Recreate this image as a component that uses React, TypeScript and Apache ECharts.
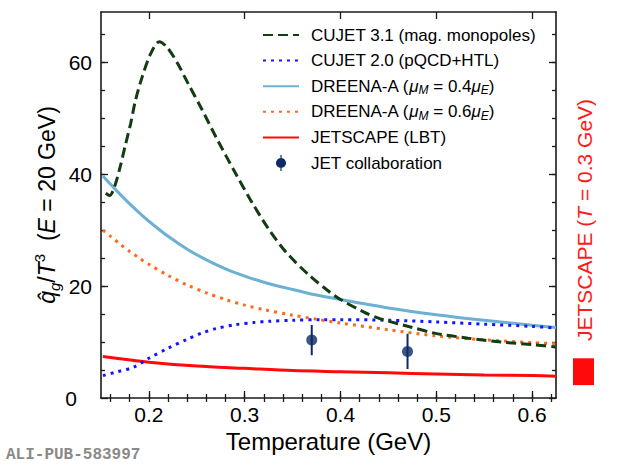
import { useEffect, useRef } from "react";
import * as echarts from "echarts";

// temperature (GeV) / qhat_g / T^3 at E = 20 GeV
const cujet31T = [0.155, 0.159, 0.164, 0.17, 0.175, 0.181, 0.186, 0.193, 0.202, 0.211, 0.219, 0.23, 0.241, 0.255, 0.272, 0.29, 0.3075, 0.325, 0.343, 0.367, 0.389, 0.4, 0.424, 0.441, 0.473, 0.498, 0.533, 0.568, 0.603, 0.625];
const cujet31 = [36.6, 36.2, 37.7, 41.3, 44.9, 49.1, 53.2, 57.4, 61.6, 63.7, 62.7, 59.8, 56.2, 51.7, 46.0, 40.3, 35.0, 30.2, 26.1, 22.0, 18.9, 17.6, 15.4, 14.2, 12.7, 11.6, 10.7, 10.0, 9.5, 9.1];

const cujet20T = [0.152, 0.167, 0.184, 0.2, 0.22, 0.24, 0.255, 0.27, 0.29, 0.31, 0.325, 0.35, 0.38, 0.4, 0.45, 0.5, 0.55, 0.6, 0.625];
const cujet20 = [4.0, 4.7, 5.5, 7.1, 8.9, 10.5, 11.6, 12.4, 13.1, 13.5, 13.7, 13.9, 14.0, 14.0, 13.9, 13.6, 13.2, 12.8, 12.5];

const dreenaT = [0.152, 0.16, 0.17, 0.18, 0.19, 0.2, 0.22, 0.24, 0.26, 0.28, 0.3, 0.32, 0.35, 0.375, 0.4, 0.45, 0.5, 0.55, 0.6, 0.625];
const dreena04 = [39.7, 38.2, 36.4, 34.7, 33.1, 31.6, 28.9, 26.6, 24.7, 23.1, 21.8, 20.7, 19.4, 18.4, 17.6, 16.1, 14.9, 13.9, 13.0, 12.6];
const dreena06 = [30.0, 28.9, 27.5, 26.2, 25.0, 23.9, 21.9, 20.2, 18.8, 17.6, 16.6, 15.8, 14.8, 14.1, 13.4, 12.2, 11.1, 10.4, 9.9, 9.7];

const jetscapeT = [0.152, 0.2, 0.25, 0.3, 0.35, 0.4, 0.45, 0.5, 0.55, 0.6, 0.625];
const jetscape = [7.4, 6.4, 5.7, 5.3, 4.9, 4.7, 4.5, 4.3, 4.1, 4.0, 3.9];

const jetT = [0.37, 0.47];
const jetVal = [10.35, 8.33];
const jetErr = [2.7, 3.15];

// JETSCAPE band at T = 0.3 GeV
const jetscapeBand = [2.3, 7.1];

const xMajor = [0.2, 0.3, 0.4, 0.5, 0.6];
const xMinor = [0.16, 0.18, 0.2, 0.22, 0.24, 0.26, 0.28, 0.3, 0.32, 0.34, 0.36, 0.38, 0.4, 0.42, 0.44, 0.46, 0.48, 0.5, 0.52, 0.54, 0.56, 0.58, 0.6, 0.62];
const yMajor = [0, 20, 40, 60];
const yMinor = [5, 10, 15, 20, 25, 30, 35, 40, 45, 50, 55, 60, 65];

const FONT = "'Liberation Sans', Arial, Helvetica, sans-serif";
const AXIS = "#1a1a1a";
const NAVY = "#0b2a66";

const zip = (xs: number[], ys: number[]) => xs.map((x, i) => [x, ys[i]]);

export default function App() {
  const ref = useRef<HTMLDivElement | null>(null);

  useEffect(() => {
    if (!ref.current) return;
    const chart = echarts.init(ref.current, null, { renderer: "svg" });

    const xBase = (extra: any) => ({
      type: "value",
      gridIndex: 0,
      min: 0.15,
      max: 0.625,
      splitLine: { show: false },
      axisLabel: { show: false },
      ...extra,
    });
    const yBase = (extra: any) => ({
      type: "value",
      gridIndex: 0,
      min: 0,
      max: 69,
      splitLine: { show: false },
      axisLabel: { show: false },
      ...extra,
    });
    const line = { show: true, onZero: false, lineStyle: { color: AXIS, width: 1.6 } };
    const noLine = { show: false };
    const tick = (vals: number[], len: number) => ({
      show: true,
      inside: true,
      length: len,
      customValues: vals,
      lineStyle: { color: AXIS, width: 1.3 },
    });

    const sub = { fontSize: 12, fontFamily: FONT, verticalAlign: "bottom", lineHeight: 12, color: "#000" };
    const base = { fontSize: 17, fontFamily: FONT, lineHeight: 20, color: "#000" };
    const ital = { ...base, fontStyle: "italic" };

    chart.setOption({
      animation: false,
      textStyle: { fontFamily: FONT },
      grid: [
        { left: 101, top: 12, width: 455, height: 386 },
        { left: 573, top: 12, width: 21, height: 386 },
      ],
      xAxis: [
        xBase({
          position: "bottom",
          axisLine: line,
          axisTick: tick(xMajor, 7),
          axisLabel: {
            show: true,
            customValues: xMajor,
            margin: 6,
            fontSize: 21,
            color: "#000",
            fontFamily: FONT,
            formatter: (v: number) => v.toFixed(1),
          },
          name: "Temperature (GeV)",
          nameLocation: "middle",
          nameGap: 31,
          nameTextStyle: { fontSize: 24, color: "#000", fontFamily: FONT },
        }),
        xBase({ position: "bottom", axisLine: noLine, axisTick: tick(xMinor, 4) }),
        xBase({ position: "top", axisLine: line, axisTick: tick(xMajor, 7) }),
        xBase({ position: "top", axisLine: noLine, axisTick: tick(xMinor, 4) }),
        {
          type: "category",
          gridIndex: 1,
          data: ["T"],
          show: false,
        },
      ],
      yAxis: [
        yBase({
          position: "left",
          axisLine: line,
          axisTick: tick(yMajor, 7),
          axisLabel: {
            show: true,
            customValues: yMajor,
            margin: 9,
            fontSize: 21,
            color: "#000",
            fontFamily: FONT,
            formatter: (v: number) => (v === 0 ? "{z|0}" : String(v)),
            rich: { z: { fontSize: 21, fontFamily: FONT, color: "#000", padding: [0, 15, 0, 0] } },
          },
          name: "{it|q\u0302}{sub|g}{n|/}{it|T}{sup|3}{n|  (}{it|E}{n| = 20 GeV)}",
          nameLocation: "middle",
          nameGap: 39,
          nameMoveOverlap: false,
          nameTextStyle: {
            rich: {
              n: { fontSize: 23, fontFamily: FONT, lineHeight: 30, color: "#000" },
              it: { fontSize: 23, fontFamily: FONT, lineHeight: 30, color: "#000", fontStyle: "italic" },
              sub: { fontSize: 15, fontFamily: FONT, lineHeight: 15, verticalAlign: "bottom", color: "#000", fontStyle: "italic" },
              sup: { fontSize: 15, fontFamily: FONT, lineHeight: 15, verticalAlign: "top", color: "#000" },
            },
          },
        }),
        yBase({ position: "left", axisLine: noLine, axisTick: tick(yMinor, 4) }),
        yBase({ position: "right", axisLine: line, axisTick: tick(yMajor, 7) }),
        yBase({ position: "right", axisLine: noLine, axisTick: tick(yMinor, 4) }),
        { type: "value", gridIndex: 1, min: 0, max: 69, show: false },
      ],
      legend: {
        orient: "vertical",
        left: 257,
        top: 20,
        itemWidth: 36,
        itemHeight: 16,
        itemGap: 5.6,
        align: "left",
        itemStyle: { opacity: 0 },
        data: [
          "CUJET 3.1 (mag. monopoles)",
          "CUJET 2.0 (pQCD+HTL)",
          "DREENA-A 0.4",
          "DREENA-A 0.6",
          "JETSCAPE (LBT)",
          {
            name: "JET collaboration",
            icon: "path://M5.3,0H6.7V19H5.3Z M12,9.5A6,6 0 1 1 0,9.5A6,6 0 1 1 12,9.5Z",
            itemStyle: { opacity: 1, color: NAVY },
          },
        ],
        formatter: (name: string) => {
          if (name === "DREENA-A 0.4") return "{n|DREENA-A (}{i|\u03bc}{s|M}{n| = 0.4}{i|\u03bc}{s|E}{n|)}";
          if (name === "DREENA-A 0.6") return "{n|DREENA-A (}{i|\u03bc}{s|M}{n| = 0.6}{i|\u03bc}{s|E}{n|)}";
          return "{n|" + name + "}";
        },
        textStyle: {
          ...base,
          padding: [0, 0, 0, 7],
          rich: { n: base, i: ital, s: { ...sub, fontStyle: "italic" } },
        },
      },
      graphic: [
        {
          type: "text",
          left: 6,
          top: 447,
          style: {
            text: "ALI-PUB-583997",
            fontSize: 16,
            fontWeight: "bold",
            fontFamily: "'Liberation Mono', 'DejaVu Sans Mono', monospace",
            fill: "#8a8a8a",
          },
        },
        {
          type: "text",
          x: 584,
          y: 220,
          rotation: Math.PI / 2,
          style: {
            text: "JETSCAPE ({it|T} = 0.3 GeV)",
            fontSize: 21,
            fontFamily: FONT,
            fill: "#ff1a1a",
            align: "center",
            verticalAlign: "middle",
            rich: { it: { fontSize: 21, fontFamily: FONT, fontStyle: "italic", fill: "#ff1a1a" } },
          },
        },
      ],
      series: [
        {
          name: "CUJET 3.1 (mag. monopoles)",
          type: "line",
          data: zip(cujet31T, cujet31),
          smooth: 0.3,
          symbol: "none",
          z: 5,
          lineStyle: { color: "#123d12", width: 3, type: [10, 5] },
          itemStyle: { color: "#123d12" },
        },
        {
          name: "CUJET 2.0 (pQCD+HTL)",
          type: "line",
          data: zip(cujet20T, cujet20),
          smooth: 0.3,
          symbol: "none",
          z: 4,
          lineStyle: { color: "#1414ff", width: 3, type: [3, 5] },
          itemStyle: { color: "#1414ff" },
        },
        {
          name: "DREENA-A 0.4",
          type: "line",
          data: zip(dreenaT, dreena04),
          smooth: 0.3,
          symbol: "none",
          z: 3,
          lineStyle: { color: "#6cb0d3", width: 3 },
          itemStyle: { color: "#6cb0d3" },
        },
        {
          name: "DREENA-A 0.6",
          type: "line",
          data: zip(dreenaT, dreena06),
          smooth: 0.3,
          symbol: "none",
          z: 4,
          lineStyle: { color: "#ff6a1a", width: 3, type: [3, 5] },
          itemStyle: { color: "#ff6a1a" },
        },
        {
          name: "JETSCAPE (LBT)",
          type: "line",
          data: zip(jetscapeT, jetscape),
          smooth: 0.3,
          symbol: "none",
          z: 3,
          lineStyle: { color: "#ff0a0a", width: 3 },
          itemStyle: { color: "#ff0a0a" },
        },
        {
          type: "custom",
          xAxisIndex: 0,
          yAxisIndex: 0,
          z: 6,
          data: jetT.map((t, i) => [t, jetVal[i] - jetErr[i], jetVal[i] + jetErr[i]]),
          encode: { x: 0, y: [1, 2] },
          renderItem: (_params: any, api: any) => {
            const p1 = api.coord([api.value(0), api.value(1)]);
            const p2 = api.coord([api.value(0), api.value(2)]);
            return {
              type: "line",
              shape: { x1: p1[0], y1: p1[1], x2: p2[0], y2: p2[1] },
              style: { stroke: NAVY, lineWidth: 2 },
            };
          },
        },
        {
          name: "JET collaboration",
          type: "scatter",
          data: zip(jetT, jetVal),
          symbol: "circle",
          symbolSize: 11,
          z: 7,
          itemStyle: { color: NAVY },
        },
        {
          type: "bar",
          xAxisIndex: 4,
          yAxisIndex: 4,
          stack: "band",
          barWidth: "100%",
          data: [jetscapeBand[0]],
          itemStyle: { color: "transparent" },
        },
        {
          type: "bar",
          xAxisIndex: 4,
          yAxisIndex: 4,
          stack: "band",
          barWidth: "100%",
          data: [jetscapeBand[1] - jetscapeBand[0]],
          itemStyle: { color: "#ff0a0a" },
        },
      ],
    });

    return () => chart.dispose();
  }, []);

  return (
    <div
      ref={ref}
      style={{ position: "fixed", left: 0, top: 0, width: 620, height: 466, background: "#fff" }}
    />
  );
}
